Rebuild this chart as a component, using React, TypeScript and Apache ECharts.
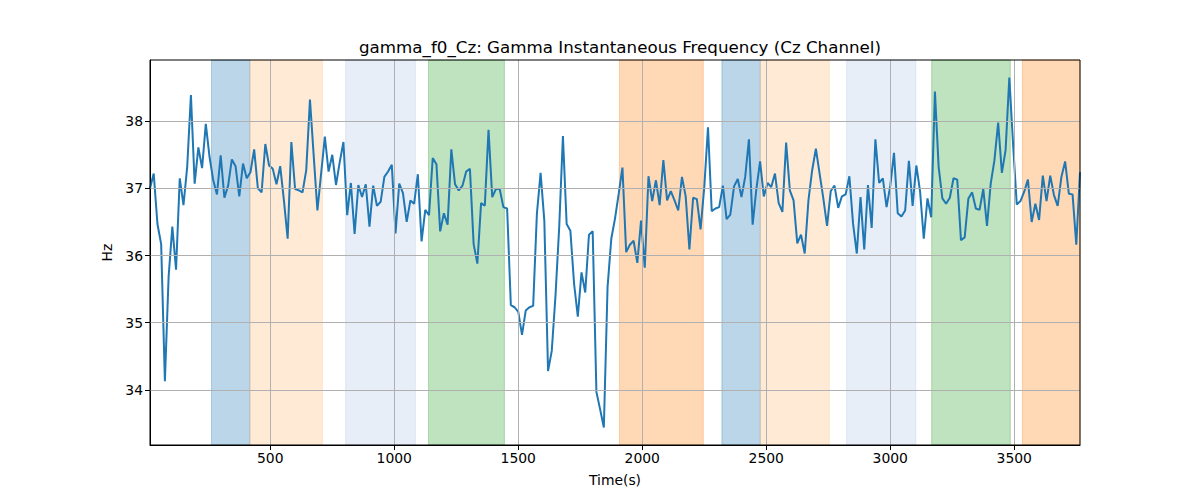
import React, { useEffect, useRef } from "react";
import * as echarts from "echarts";

const TITLE = "gamma_f0_Cz: Gamma Instantaneous Frequency (Cz Channel)";
const X_NAME = "Time(s)";
const Y_NAME = "Hz";

const T0 = 15;
const STEP = 15;

const VALUES = [
  37.0, 37.22, 36.47, 36.17, 34.13, 35.68, 36.43, 35.79, 37.15, 36.75, 37.32, 38.39, 37.07, 37.61, 37.3, 37.96,
  37.47, 37.12, 36.91, 37.49, 36.86, 37.04, 37.43, 37.33, 36.88, 37.37, 37.15, 37.24, 37.58, 37.0, 36.94, 37.66,
  37.34, 37.29, 37.06, 37.33, 36.82, 36.25, 37.69, 36.99, 36.97, 36.94, 37.27,
  38.32, 37.49, 36.67, 37.22, 37.77, 37.25, 37.5, 37.05, 37.39, 37.69, 36.6, 37.08, 36.32, 37.05, 36.87, 37.06,
  36.43, 37.04, 36.74, 36.8, 37.17, 37.25, 37.35, 36.33, 37.07, 36.93, 36.5, 36.82, 36.77, 37.21, 36.21, 36.68,
  36.6, 37.45, 37.36, 36.36, 36.63, 36.46, 37.58, 37.06, 36.97,
  37.04, 37.25, 37.29, 36.17, 35.88, 36.78, 36.74, 37.87, 36.87, 36.99, 36.99, 36.72, 36.7, 35.26, 35.23, 35.16,
  34.82, 35.18, 35.23, 35.25, 36.62, 37.23, 36.52, 34.28, 34.58, 35.4, 36.42, 37.78, 36.47, 36.37, 35.58, 35.09,
  35.75, 35.45, 36.31, 36.36, 33.97, 33.71, 33.44, 35.53, 36.25,
  36.55, 36.92, 37.31, 36.05, 36.16, 36.22, 35.89, 36.52, 35.82, 37.18, 36.81, 37.12, 36.75, 37.42, 36.82, 36.96,
  36.82, 36.67, 37.17, 36.88, 36.09, 36.86, 36.84, 36.39, 37.02, 37.91, 36.66, 36.7, 36.72, 37.04, 36.54, 36.61,
  37.03, 37.14, 36.87, 37.17, 37.73, 36.46, 36.99, 37.4, 36.88,
  37.08, 37.02, 37.22, 36.78, 36.65, 37.68, 36.97, 36.82, 36.18, 36.31, 36.03, 36.82, 37.27, 37.59, 37.22, 36.85,
  36.44, 36.96, 37.04, 36.71, 36.88, 36.91, 37.18, 36.47, 36.03, 36.87, 36.09, 37.05, 36.41, 37.73, 37.08, 37.15,
  36.72, 37.04, 37.53, 36.63, 36.58, 36.67, 37.41, 36.74, 37.34,
  36.96, 36.25, 36.85, 36.57, 38.44, 37.32, 36.85, 36.77, 36.86, 37.15, 37.13, 36.23, 36.27, 36.85, 36.94, 36.7,
  36.68, 36.99, 36.44, 37.07, 37.42, 37.98, 37.23, 37.57, 38.65, 37.67, 36.76, 36.81, 36.95, 37.13, 36.5, 36.77,
  36.53, 37.19, 36.81, 37.19, 36.9, 36.74, 37.17, 37.4, 36.92, 36.91, 36.16, 37.24,
];

const X_TICKS = [500, 1000, 1500, 2000, 2500, 3000, 3500];
const Y_TICKS = [34, 35, 36, 37, 38];

const BAND_STARTS = [263, 418, 804, 1138, 1908, 2321, 2476, 2824, 3167, 3533];
const BAND_ENDS = [418, 710, 1085, 1444, 2246, 2476, 2754, 3103, 3484, 3765];
const BAND_COLORS = [
  "rgba(31,119,180,0.3)",
  "rgba(255,187,120,0.3)",
  "rgba(174,199,232,0.3)",
  "rgba(44,160,44,0.3)",
  "rgba(255,127,14,0.3)",
  "rgba(31,119,180,0.3)",
  "rgba(255,187,120,0.3)",
  "rgba(174,199,232,0.3)",
  "rgba(44,160,44,0.3)",
  "rgba(255,127,14,0.3)",
];

const FONT = "DejaVu Sans";

export default function App() {
  const ref = useRef<HTMLDivElement>(null);

  useEffect(() => {
    document.body.style.margin = "0";
    const chart = echarts.init(ref.current as HTMLDivElement, null, { renderer: "svg" });
    const data = VALUES.map((v, i) => [T0 + i * STEP, v]);
    const xMin = T0;
    const xMax = T0 + (VALUES.length - 1) * STEP;
    const vMin = Math.min(...VALUES);
    const vMax = Math.max(...VALUES);
    const pad = (vMax - vMin) * 0.05;
    const yMin = vMin - pad;
    const yMax = vMax + pad;

    const bands = BAND_STARTS.map((s, i) => [
      {
        xAxis: s,
        itemStyle: { color: BAND_COLORS[i], borderColor: BAND_COLORS[i], borderWidth: 1 },
      },
      { xAxis: BAND_ENDS[i] },
    ]);

    const labelStyle = { color: "#000", fontSize: 13.9, fontFamily: FONT };

    chart.setOption({
      animation: false,
      title: {
        text: TITLE,
        left: 615,
        top: 33,
        textAlign: "center",
        textStyle: { color: "#000", fontSize: 16.7, fontWeight: "normal", fontFamily: FONT },
      },
      grid: {
        left: 150,
        right: 120,
        top: 60,
        bottom: 55,
        show: true,
        borderColor: "#000",
        borderWidth: 1,
        backgroundColor: "transparent",
        z: 10,
      },
      xAxis: {
        type: "value",
        min: xMin,
        max: xMax,
        z: 3,
        name: X_NAME,
        nameLocation: "middle",
        nameGap: 28,
        nameTextStyle: labelStyle,
        axisLine: { show: true, onZero: false, lineStyle: { color: "#000", width: 1 } },
        axisTick: { show: true, customValues: X_TICKS, length: 5, lineStyle: { color: "#000" } },
        axisLabel: { customValues: X_TICKS, margin: 6, formatter: (v: number) => String(v), ...labelStyle },
        splitLine: { show: false },
      },
      yAxis: {
        type: "value",
        min: yMin,
        max: yMax,
        z: 3,
        name: Y_NAME,
        nameLocation: "middle",
        nameGap: 34,
        nameRotate: 90,
        nameTextStyle: labelStyle,
        axisLine: { show: true, onZero: false, lineStyle: { color: "#000", width: 1 } },
        axisTick: { show: true, customValues: Y_TICKS, length: 5, lineStyle: { color: "#000" } },
        axisLabel: { customValues: Y_TICKS, margin: 7, formatter: (v: number) => String(v), ...labelStyle },
        splitLine: { show: false },
      },
      series: [
        {
          name: "bands",
          type: "line",
          data,
          z: 1,
          silent: true,
          showSymbol: false,
          lineStyle: { opacity: 0 },
          markArea: { silent: true, data: bands },
        },
        {
          name: "grid",
          type: "line",
          data,
          z: 2,
          silent: true,
          showSymbol: false,
          lineStyle: { opacity: 0 },
          markLine: {
            silent: true,
            symbol: ["none", "none"],
            label: { show: false },
            lineStyle: { color: "#b0b0b0", width: 1, type: "solid" },
            data: [...X_TICKS.map((x) => ({ xAxis: x })), ...Y_TICKS.map((y) => ({ yAxis: y }))],
          },
        },
        {
          name: "gamma_f0_Cz",
          type: "line",
          data,
          z: 4,
          showSymbol: false,
          lineStyle: { color: "#1f77b4", width: 2 },
          itemStyle: { color: "#1f77b4" },
        },
      ],
    });

    return () => chart.dispose();
  }, []);

  return <div ref={ref} style={{ width: 1200, height: 500 }} />;
}
